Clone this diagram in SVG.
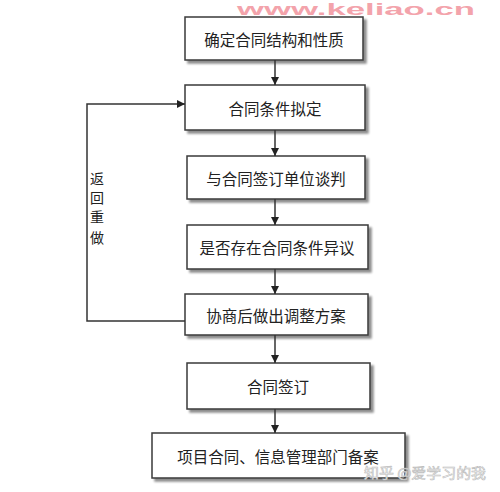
<svg xmlns="http://www.w3.org/2000/svg" width="500" height="492" viewBox="0 0 500 492">
<defs>
<marker id="ah" viewBox="0 0 10 10" refX="10" refY="5" markerWidth="8" markerHeight="8" markerUnits="userSpaceOnUse" orient="auto">
<path d="M0,0 L10,5 L0,10 z" fill="#222"/>
</marker>
<filter id="sh" x="-10%" y="-10%" width="130%" height="140%">
<feGaussianBlur in="SourceAlpha" stdDeviation="1"/>
<feOffset dx="2.5" dy="2.5"/>
<feComponentTransfer><feFuncA type="linear" slope="0.45"/></feComponentTransfer>
<feMerge><feMergeNode/><feMergeNode in="SourceGraphic"/></feMerge>
</filter>
</defs>
<style>
.box{fill:#fff;stroke:#3a3a3a;stroke-width:1.5;filter:url(#sh)}
.t{font-family:"Noto Sans CJK SC","Noto Sans",sans-serif;font-size:15.5px;fill:#222;text-anchor:middle;dominant-baseline:central}
.lbl{font-family:"Noto Sans CJK SC","Noto Sans",sans-serif;font-size:14px;fill:#222;text-anchor:middle;dominant-baseline:central}
.c{fill:none;stroke:#333;stroke-width:1.5}
.wm{font-family:"Liberation Sans",sans-serif;font-weight:bold;font-size:16px;fill:#f3a3ab}
.wm2{font-family:"Noto Sans CJK SC",sans-serif;font-size:14px;fill:#fff;stroke:#bbb;stroke-width:0.6}
</style>
<rect width="500" height="492" fill="#fff"/>
<text class="wm" x="237" y="15" textLength="238" lengthAdjust="spacingAndGlyphs">www.keliao.cn</text>
<g id="n1"><rect class="box" x="185" y="17" width="178" height="43"/><text class="t" x="274" y="39">确定合同结构和性质</text></g>
<g id="n2"><rect class="box" x="185" y="85" width="180" height="45"/><text class="t" x="275" y="108">合同条件拟定</text></g>
<g id="n3"><rect class="box" x="187" y="156" width="178" height="43"/><text class="t" x="276" y="178">与合同签订单位谈判</text></g>
<g id="n4"><rect class="box" x="187" y="225" width="181" height="44"/><text class="t" x="277" y="247">是否存在合同条件异议</text></g>
<g id="n5"><rect class="box" x="185" y="294" width="183" height="41"/><text class="t" x="276" y="315">协商后做出调整方案</text></g>
<g id="n6"><rect class="box" x="187" y="363" width="183" height="46"/><text class="t" x="278" y="386">合同签订</text></g>
<g id="n7"><rect class="box" x="152" y="433" width="253" height="45"/><text class="t" x="278" y="456">项目合同、信息管理部门备案</text></g>
<g id="connectors">
<line class="c" x1="275" y1="60" x2="275" y2="85" marker-end="url(#ah)"/>
<line class="c" x1="275" y1="130" x2="275" y2="156" marker-end="url(#ah)"/>
<line class="c" x1="275" y1="199" x2="275" y2="225" marker-end="url(#ah)"/>
<line class="c" x1="275" y1="269" x2="275" y2="294" marker-end="url(#ah)"/>
<line class="c" x1="275" y1="335" x2="275" y2="363" marker-end="url(#ah)"/>
<line class="c" x1="275" y1="409" x2="275" y2="433" marker-end="url(#ah)"/>
<polyline class="c" points="185,321 87,321 87,104 185,104" marker-end="url(#ah)"/>
<g id="loop-label">
<text class="lbl" x="97" y="178">返</text>
<text class="lbl" x="97" y="197">回</text>
<text class="lbl" x="97" y="216">重</text>
<text class="lbl" x="97" y="237">做</text>
</g>
</g>
<text class="wm2" x="364" y="478" textLength="122" lengthAdjust="spacingAndGlyphs">知乎 @爱学习的我</text>
</svg>
